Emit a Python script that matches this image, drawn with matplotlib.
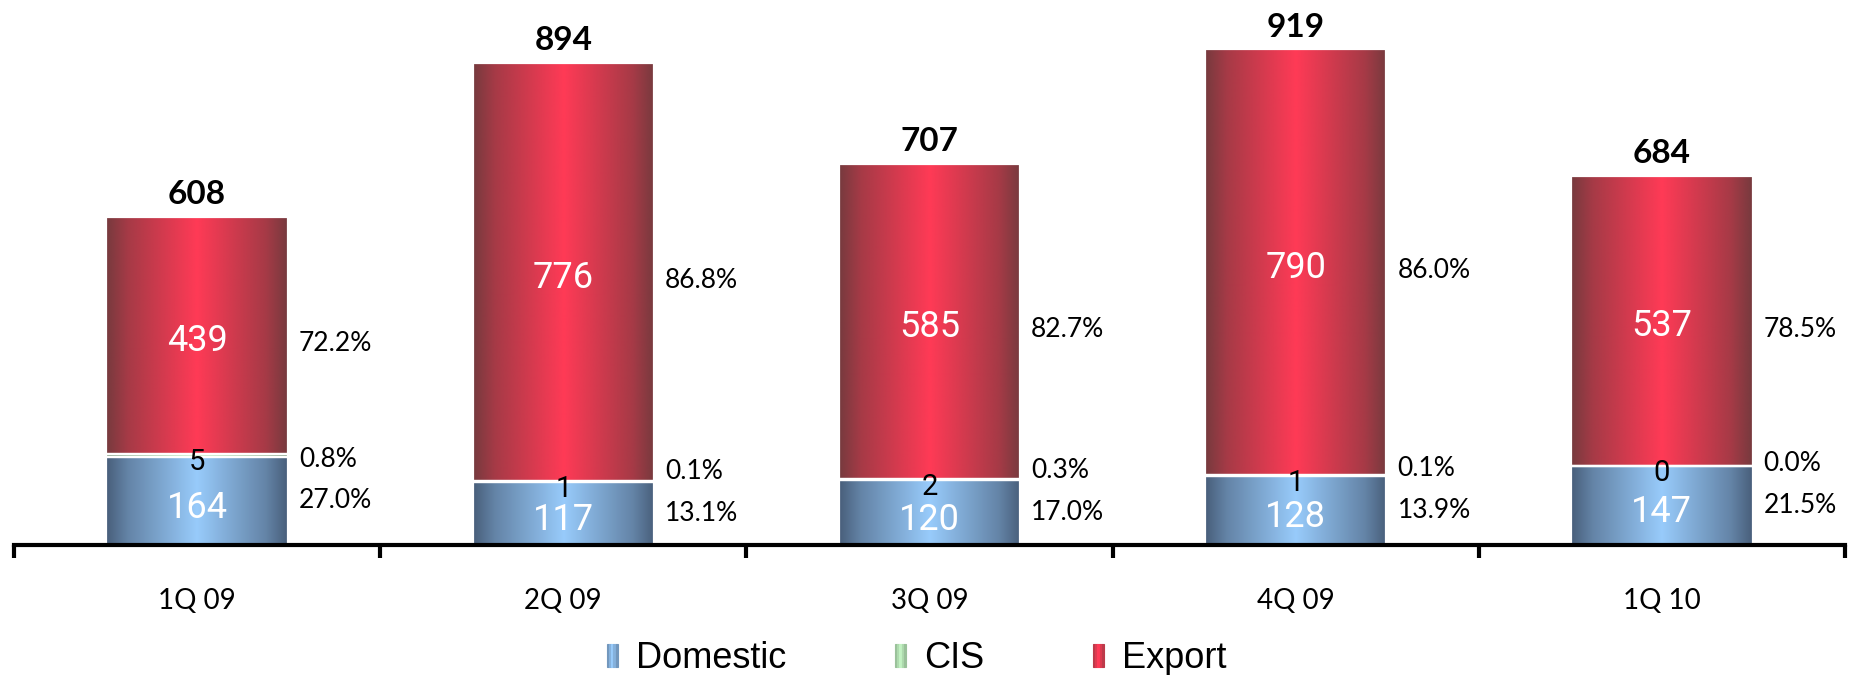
import matplotlib
matplotlib.use('Agg')
import matplotlib.pyplot as plt
import numpy as np
from matplotlib import font_manager
from matplotlib.colors import LinearSegmentedColormap, to_rgb
from matplotlib.legend_handler import HandlerBase
from matplotlib.patches import Rectangle

# ---- data ----
categories = ['1Q 09', '2Q 09', '3Q 09', '4Q 09', '1Q 10']
domestic = [164, 117, 120, 128, 147]
cis = [5, 1, 2, 1, 0]
export = [439, 776, 585, 790, 537]
totals = [608, 894, 707, 919, 684]
dom_pct = ['27.0%', '13.1%', '17.0%', '13.9%', '21.5%']
cis_pct = ['0.8%', '0.1%', '0.3%', '0.1%', '0.0%']
exp_pct = ['72.2%', '86.8%', '82.7%', '86.0%', '78.5%']
series_names = ['Domestic', 'CIS', 'Export']

names = {f.name for f in font_manager.fontManager.ttflist}
NARROW = 'Liberation Sans' if 'Liberation Sans' in names else 'DejaVu Sans'
MAINF = 'Lato' if 'Lato' in names else 'DejaVu Sans'
VALF = 'Roboto' if 'Roboto' in names else 'DejaVu Sans'


def mix(a, b, t):
    a, b = np.array(to_rgb(a)), np.array(to_rgb(b))
    return tuple(a + (b - a) * t)


def grad_cmap(edge, bright):
    return LinearSegmentedColormap.from_list(
        'g', [(0.0, edge), (0.12, mix(edge, bright, 0.35)), (0.5, bright),
              (0.88, mix(edge, bright, 0.35)), (1.0, edge)])


cm_dom = grad_cmap('#485E7A', '#98CBFB')
cm_cis = grad_cmap('#6E8C6E', '#C2F2C2')
cm_exp = grad_cmap('#763A3E', '#FF3A56')

fig = plt.figure(figsize=(18.52, 6.75), dpi=100)
ax = fig.add_axes([14 / 1852, 130 / 675, (1845 - 14) / 1852, 545 / 675])

x = np.arange(len(categories))
w = 0.495
dom = np.array(domestic)
cs = np.array(cis)
ex = np.array(export)

layers = [(dom, np.zeros(len(x)), cm_dom),
          (cs, dom, cm_cis),
          (ex, dom + cs, cm_exp)]
grad = np.linspace(0, 1, 256).reshape(1, -1)
for vals, bottoms, cmap in layers:
    bars = ax.bar(x, vals, w, bottom=bottoms, facecolor='none',
                  edgecolor='white', linewidth=1.6, zorder=3)
    for p in bars:
        if p.get_height() <= 0:
            continue
        x0, y0 = p.get_x(), p.get_y()
        im = ax.imshow(grad, extent=[x0, x0 + p.get_width(), y0, y0 + p.get_height()],
                       aspect='auto', cmap=cmap, zorder=2, interpolation='bilinear')
        im.set_clip_path(p)

ax.set_xlim(-0.5, len(x) - 0.5)
ax.set_ylim(0, 1010)
ax.set_aspect('auto')

for s in ['left', 'right', 'top']:
    ax.spines[s].set_visible(False)
ax.spines['bottom'].set_linewidth(3)
ax.spines['bottom'].set_zorder(5)
ax.set_yticks([])
ax.set_xticks(np.arange(-0.5, len(x), 1.0))
ax.set_xticklabels([])
ax.tick_params(axis='x', direction='out', length=9, width=3, color='black')

for i, c in enumerate(categories):
    ax.annotate(c, xy=(i, 0), xycoords=('data', 'axes fraction'), xytext=(0, -40),
                textcoords='offset points', ha='center', va='center',
                fontsize=20, family=MAINF)

for i in range(len(x)):
    d, c, e, t = dom[i], cs[i], ex[i], totals[i]
    # total
    ax.annotate(str(t), xy=(i, t), xytext=(0, 9), textcoords='offset points',
                ha='center', va='baseline', fontsize=24, fontweight='bold', family=MAINF)
    # values inside
    ax.annotate(str(e), xy=(i, d + c + e / 2), xytext=(0, -4), textcoords='offset points',
                ha='center', va='center', fontsize=26, color='white', family=VALF)
    ax.annotate(str(d), xy=(i, d / 2), xytext=(0, -5), textcoords='offset points',
                ha='center', va='center', fontsize=26, color='white', family=VALF)
    ax.annotate(str(c), xy=(i, d + c / 2), xytext=(0, -5), textcoords='offset points',
                ha='center', va='center', fontsize=21, color='black', family=VALF, zorder=6)
    # percentages
    xr = i + w / 2
    ax.annotate(exp_pct[i], xy=(xr, d + c + e / 2), xytext=(8, -6), textcoords='offset points',
                ha='left', va='center', fontsize=19, family=MAINF)
    ax.annotate(dom_pct[i], xy=(xr, d / 2), xytext=(8, 0), textcoords='offset points',
                ha='left', va='center', fontsize=19, family=MAINF)
    ax.annotate(cis_pct[i], xy=(xr, d / 2), xytext=(8, 30), textcoords='offset points',
                ha='left', va='center', fontsize=19, family=MAINF)


class GradHandler(HandlerBase):
    def __init__(self, cmap):
        super().__init__()
        self.cmap = cmap

    def create_artists(self, legend, orig_handle, xdescent, ydescent, width, height,
                       fontsize, trans):
        n = 5
        arts = []
        for k in range(n):
            col = self.cmap(0.15 + 0.7 * (k + 0.5) / n)
            r = Rectangle((-xdescent + k * width / n, -ydescent),
                          width / n, height, facecolor=col,
                          edgecolor=col, linewidth=0.8, transform=trans)
            arts.append(r)
        return arts


proxies = [Rectangle((0, 0), 1, 1) for _ in series_names]
hmap = {proxies[0]: GradHandler(cm_dom), proxies[1]: GradHandler(cm_cis),
        proxies[2]: GradHandler(cm_exp)}
fig.legend(proxies, series_names, handler_map=hmap, loc='center',
           bbox_to_anchor=(0.495, (675 - 659) / 675), ncol=3, frameon=False,
           prop={'family': NARROW, 'size': 26}, handlelength=0.32, handleheight=0.6,
           handletextpad=0.5, columnspacing=3.0)

fig.savefig('out.png', dpi=100)
